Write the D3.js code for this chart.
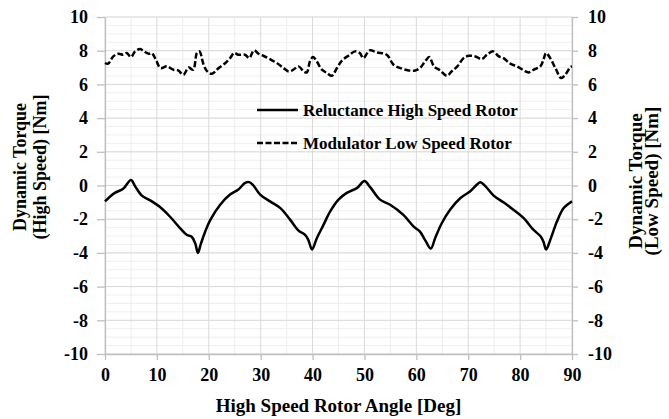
<!DOCTYPE html>
<html>
<head>
<meta charset="utf-8">
<script src="https://cdn.jsdelivr.net/npm/d3@7"></script>
<style>
  html, body { margin: 0; padding: 0; background: #fff; }
  svg { display: block; }
  text { font-family: "Liberation Serif", "Times New Roman", serif; font-weight: bold; fill: #000; }
</style>
</head>
<body>
<svg id="chart" width="669" height="419"></svg>
<script>
// ---- data ----
const highAngle = [0,1.9,3.5,5.0,5.8,7.1,8.7,10.6,12.5,14.5,15.8,16.7,17.4,17.9,18.5,19.3,20.3,22.2,24.1,25.7,27.0,27.8,28.6,29.9,31.8,33.8,35.7,37.3,38.6,39.2,39.9,40.8,42.1,43.4,45.0,46.6,48.6,50.0,51.1,53.0,54.95,57.5,59.5,60.7,61.7,62.8,63.6,64.9,66.5,68.5,70.4,71.7,72.3,73.3,74.9,76.8,78.7,80.7,82.6,83.9,84.5,85.0,85.8,87.1,88.4,90];
const highTorque = [-0.94,-0.44,-0.2,0.32,-0.04,-0.6,-0.88,-1.28,-1.84,-2.54,-2.94,-3.04,-3.44,-4.0,-3.44,-2.74,-2.04,-1.14,-0.54,-0.24,0.16,0.2,0.0,-0.54,-0.94,-1.34,-2.04,-2.68,-2.94,-3.24,-3.8,-3.14,-2.34,-1.54,-0.84,-0.44,-0.14,0.26,-0.1,-0.84,-1.14,-1.74,-2.44,-2.74,-3.24,-3.74,-3.14,-2.24,-1.44,-0.74,-0.34,0.06,0.2,-0.04,-0.6,-1.0,-1.44,-1.94,-2.64,-3.0,-3.34,-3.8,-3.24,-2.14,-1.34,-0.94];

const lowAngle = [0,0.6,1.6,2.6,3.5,4.2,5.0,5.8,6.8,7.5,8.4,9.0,9.8,10.7,11.9,13.2,14.1,15.1,16.1,17.0,17.7,18.2,19.0,19.7,20.6,21.9,23.2,24.1,24.9,25.7,27.0,27.8,28.7,29.6,30.5,31.8,33.1,34.4,35.4,36.3,37.3,38.3,38.9,39.5,40.1,40.8,41.8,42.8,43.7,44.7,45.7,46.9,48.2,49.1,49.8,51.0,52.4,54.3,55.6,56.9,58.5,59.8,60.7,61.7,62.5,63.4,64.6,65.9,66.8,67.9,69.1,70.1,71.4,72.6,73.6,74.8,75.9,76.8,78.1,79.4,80.7,81.6,82.6,83.9,84.5,85.0,85.8,86.8,87.9,88.7,89.7,90];
const lowTorque = [7.27,7.23,7.66,7.82,7.76,7.86,7.62,7.96,8.1,7.96,7.82,7.86,7.47,6.97,7.07,6.87,6.83,6.57,7.0,6.87,7.86,7.96,7.17,6.77,6.63,6.97,7.27,7.56,7.86,7.76,7.76,7.56,8.02,7.82,7.70,7.5,7.27,6.97,6.77,6.87,7.07,6.77,6.71,7.37,7.62,7.37,6.87,6.67,6.51,6.97,7.43,7.70,7.96,7.86,7.56,8.02,7.9,7.76,7.17,6.97,6.83,6.83,6.97,7.37,7.62,7.07,6.83,6.51,6.77,7.07,7.56,7.70,7.66,7.5,7.76,7.96,7.66,7.56,7.23,7.07,6.83,6.71,6.87,7.07,7.47,7.86,7.56,6.97,6.38,6.57,7.03,7.07];

const xTicks = [0,10,20,30,40,50,60,70,80,90];
const yTicks = [-10,-8,-6,-4,-2,0,2,4,6,8,10];
const seriesNames = ["Reluctance High Speed Rotor", "Modulator Low Speed Rotor"];
const xTitle = "High Speed Rotor Angle [Deg]";
const yLeftTitle = ["Dynamic Torque", "(High Speed) [Nm]"];
const yRightTitle = ["Dynamic Torque", "(Low Speed) [Nm]"];

// ---- layout ----
const svg = d3.select("#chart");
const L = 105, R = 572, T = 17, B = 354;
const x = d3.scaleLinear().domain([0, 90]).range([L, R]);
const y = d3.scaleLinear().domain([-10, 10]).range([B, T]);
const fmt = d => String(d);

// minor grid
const g = svg.append("g");
g.selectAll("line.hmin").data(d3.range(-10, 10.01, 0.5)).join("line")
  .attr("x1", L).attr("x2", R).attr("y1", d => y(d)).attr("y2", d => y(d))
  .attr("stroke", "#efefef").attr("stroke-width", 1);
g.selectAll("line.vmin").data(d3.range(5, 90, 10)).join("line")
  .attr("y1", T).attr("y2", B).attr("x1", d => x(d)).attr("x2", d => x(d))
  .attr("stroke", "#ececec").attr("stroke-width", 1);
// major grid
g.selectAll("line.hmaj").data(yTicks).join("line")
  .attr("x1", L).attr("x2", R).attr("y1", d => y(d)).attr("y2", d => y(d))
  .attr("stroke", "#d9d9d9").attr("stroke-width", 1);
g.selectAll("line.vmaj").data(xTicks).join("line")
  .attr("y1", T).attr("y2", B).attr("x1", d => x(d)).attr("x2", d => x(d))
  .attr("stroke", "#d9d9d9").attr("stroke-width", 1);

// axes
const axisColor = "#bfbfbf";
function styleAxis(sel) {
  sel.attr("font-family", "Liberation Serif, serif").attr("font-size", 18).attr("font-weight", "bold");
  sel.select(".domain").attr("stroke", axisColor).attr("stroke-width", 1.3);
  sel.selectAll(".tick line").attr("stroke", axisColor).attr("stroke-width", 1.3);
  sel.selectAll(".tick text").style("font-family", "'Liberation Serif', serif")
    .style("font-weight", "bold").style("font-size", "18px").attr("fill", "#000");
}
const ax = svg.append("g").attr("transform", `translate(0,${B})`)
  .call(d3.axisBottom(x).tickValues(xTicks).tickFormat(fmt).tickSize(6).tickSizeOuter(0).tickPadding(8));
styleAxis(ax);
const ayl = svg.append("g").attr("transform", `translate(${L},0)`)
  .call(d3.axisLeft(y).tickValues(yTicks).tickFormat(fmt).tickSize(8).tickSizeOuter(0).tickPadding(9));
styleAxis(ayl);
const ayr = svg.append("g").attr("transform", `translate(${R},0)`)
  .call(d3.axisRight(y).tickValues(yTicks).tickFormat(fmt).tickSize(6).tickSizeOuter(0).tickPadding(10));
styleAxis(ayr);

// lines
const line = d3.line().x(d => x(d[0])).y(d => y(d[1])).curve(d3.curveCatmullRom.alpha(0.5));
svg.append("path").datum(d3.zip(highAngle, highTorque))
  .attr("d", line).attr("fill", "none").attr("stroke", "#000").attr("stroke-width", 2.5)
  .attr("stroke-linejoin", "round");
svg.append("path").datum(d3.zip(lowAngle, lowTorque))
  .attr("d", line).attr("fill", "none").attr("stroke", "#000").attr("stroke-width", 2.5)
  .attr("stroke-dasharray", "6,2.5");

// legend
const leg = svg.append("g");
const legRows = [{ y: 110, dash: null }, { y: 143, dash: "6,2.5" }];
legRows.forEach((r, i) => {
  leg.append("line").attr("x1", 257).attr("x2", 298).attr("y1", r.y).attr("y2", r.y)
    .attr("stroke", "#000").attr("stroke-width", 2.5).attr("stroke-dasharray", r.dash);
  leg.append("text").attr("x", 303).attr("y", r.y).attr("dy", "0.35em")
    .style("font-size", "17px").text(seriesNames[i]);
});

// titles
svg.append("text").attr("x", (L + R) / 2).attr("y", 412).attr("text-anchor", "middle")
  .style("font-size", "19px").text(xTitle);
yLeftTitle.forEach((t, i) => {
  svg.append("text").attr("transform", `translate(${26 + i * 20},167) rotate(-90)`)
    .attr("text-anchor", "middle").style("font-size", "18px").text(t);
});
yRightTitle.forEach((t, i) => {
  svg.append("text").attr("transform", `translate(${642 + i * 16},181) rotate(-90)`)
    .attr("text-anchor", "middle").style("font-size", "19px").text(t);
});
</script>
</body>
</html>
